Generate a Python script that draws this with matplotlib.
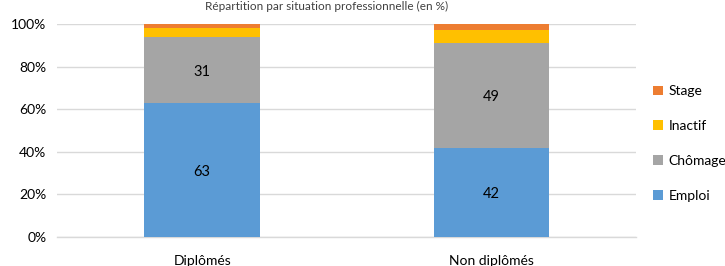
import matplotlib
matplotlib.use("Agg")
import matplotlib.pyplot as plt
import numpy as np

categories = ["Diplômés", "Non diplômés"]
series_names = ["Emploi", "Chômage", "Inactif", "Stage"]
emploi = [63, 42]
chomage = [31, 49]
inactif = [4, 6]
stage = [2, 3]
colors = ["#5B9BD5", "#A5A5A5", "#FFC000", "#ED7D31"]
yticks = [0, 20, 40, 60, 80, 100]
ytick_labels = ["0%", "20%", "40%", "60%", "80%", "100%"]
title = "Répartition par situation professionnelle (en %)"

plt.rcParams['font.family'] = ['Lato', 'DejaVu Sans']

fig = plt.figure(figsize=(7.25, 2.66), dpi=100)
ax = fig.add_axes([0.0793, 0.109, 0.798, 0.801])

x = np.arange(len(categories))
data = [emploi, chomage, inactif, stage]
bottom = np.zeros(len(categories))
handles = []
for name, vals, c in zip(series_names, data, colors):
    b = ax.bar(x, vals, width=0.4, bottom=bottom, color=c, label=name, zorder=3)
    handles.append(b)
    if name in ("Emploi", "Chômage"):
        for xi, v, bt in zip(x, vals, bottom):
            ax.text(xi, bt + v / 2 - 1, str(v), ha="center", va="center",
                    fontsize=10.5, color="#000000", zorder=4)
    bottom = bottom + np.array(vals)

ax.set_xlim(-0.5, len(categories) - 0.5)
ax.set_ylim(0, 100)
ax.set_yticks(yticks)
ax.set_yticklabels(ytick_labels, fontsize=10)
ax.set_xticks(x)
ax.set_xticklabels(categories, fontsize=10)
ax.tick_params(axis="y", length=0, pad=8)
ax.tick_params(axis="x", length=0, pad=13)
ax.yaxis.grid(True, color="#D9D9D9", linewidth=1, zorder=0)
for s in ["top", "right", "left"]:
    ax.spines[s].set_visible(False)
ax.spines["bottom"].set_color("#D9D9D9")
ax.spines["bottom"].set_linewidth(1)

leg = fig.legend(handles[::-1], series_names[::-1], loc="center left",
                 bbox_to_anchor=(0.893, 0.46), frameon=False, fontsize=10,
                 handlelength=0.7, handleheight=0.7, handletextpad=0.4,
                 labelspacing=1.65, borderaxespad=0)

fig.text(0.45, 0.998, title, ha="center", va="top", fontsize=8.5, color="#404040")

fig.savefig("out.png", dpi=100)
